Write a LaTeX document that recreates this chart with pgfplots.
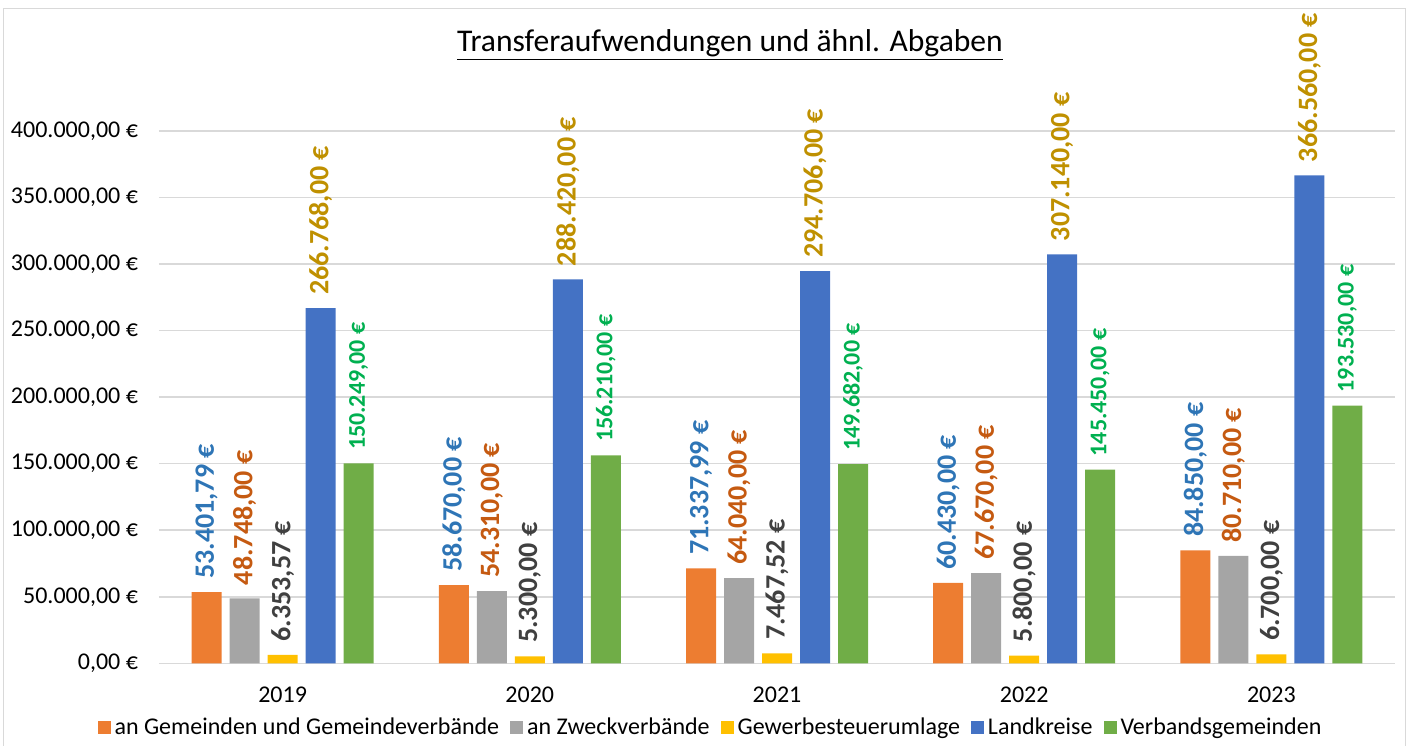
\documentclass[border=0pt]{standalone}
\usepackage{fontspec}
\setmainfont{Carlito}
\usepackage{pgfplots}
\pgfplotsset{compat=1.18}

\definecolor{cOrange}{HTML}{ED7D31}
\definecolor{cGray}{HTML}{A5A5A5}
\definecolor{cYellow}{HTML}{FFC000}
\definecolor{cBlue}{HTML}{4472C4}
\definecolor{cGreen}{HTML}{70AD47}
\definecolor{lBlue}{HTML}{2E75B6}
\definecolor{lOrange}{HTML}{C55A11}
\definecolor{lDark}{HTML}{404040}
\definecolor{lGold}{HTML}{BF9000}
\definecolor{lGreen}{HTML}{00B050}
\definecolor{gridGray}{HTML}{D9D9D9}

\begin{document}
\begin{tikzpicture}
\begin{axis}[
    scale only axis,
    width=618pt, height=266.2pt,
    xmin=-0.5, xmax=4.5,
    ymin=0, ymax=400000,
    ybar=4pt, bar width=15pt,
    clip=false,
    scaled y ticks=false,
    axis line style={draw=none},
    major tick length=0pt,
    ymajorgrids,
    grid style={color=gridGray, line width=0.75pt},
    xtick={0,1,2,3,4},
    xticklabels={2019,2020,2021,2022,2023},
    ytick={0,50000,100000,150000,200000,250000,300000,350000,400000},
    yticklabels={{0,00 €},{50.000,00 €},{100.000,00 €},{150.000,00 €},{200.000,00 €},{250.000,00 €},{300.000,00 €},{350.000,00 €},{400.000,00 €}},
    xticklabel style={font=\fontsize{12}{14}\selectfont, yshift=-8.5pt},
    yticklabel style={font=\fontsize{12}{14}\selectfont, xshift=-7pt},
    point meta=explicit symbolic,
    every node near coord/.append style={rotate=90, anchor=west, inner xsep=6.5pt},
    legend style={at={(rel axis cs:0.447,-0.12)}, anchor=center, draw=none,
        font=\fontsize{12}{14}\selectfont, legend columns=-1,
        inner sep=0pt,
        /tikz/every odd column/.append style={column sep=0pt},
        /tikz/every even column/.append style={column sep=3.5pt}},
    legend image code/.code={\fill[#1] (0pt,-3.3pt) rectangle (6.5pt,3.3pt);},
]
\addplot[fill=cOrange, draw=none, nodes near coords,
    nodes near coords style={font=\fontsize{14}{16}\selectfont\bfseries, text=lBlue}]
    coordinates {(0,53401.79) [53.401,79 €] (1,58670) [58.670,00 €] (2,71337.99) [71.337,99 €] (3,60430) [60.430,00 €] (4,84850) [84.850,00 €]};
\addplot[fill=cGray, draw=none, nodes near coords,
    nodes near coords style={font=\fontsize{14}{16}\selectfont\bfseries, text=lOrange}]
    coordinates {(0,48748) [48.748,00 €] (1,54310) [54.310,00 €] (2,64040) [64.040,00 €] (3,67670) [67.670,00 €] (4,80710) [80.710,00 €]};
\addplot[fill=cYellow, draw=none, nodes near coords,
    nodes near coords style={font=\fontsize{14}{16}\selectfont\bfseries, text=lDark}]
    coordinates {(0,6353.57) [6.353,57 €] (1,5300) [5.300,00 €] (2,7467.52) [7.467,52 €] (3,5800) [5.800,00 €] (4,6700) [6.700,00 €]};
\addplot[fill=cBlue, draw=none, nodes near coords,
    nodes near coords style={font=\fontsize{14}{16}\selectfont\bfseries, text=lGold}]
    coordinates {(0,266768) [266.768,00 €] (1,288420) [288.420,00 €] (2,294706) [294.706,00 €] (3,307140) [307.140,00 €] (4,366560) [366.560,00 €]};
\addplot[fill=cGreen, draw=none, nodes near coords,
    nodes near coords style={font=\fontsize{12}{14}\selectfont\bfseries, text=lGreen}]
    coordinates {(0,150249) [150.249,00 €] (1,156210) [156.210,00 €] (2,149682) [149.682,00 €] (3,145450) [145.450,00 €] (4,193530) [193.530,00 €]};
\legend{an Gemeinden und Gemeindeverbände, an Zweckverbände, Gewerbesteuerumlage, Landkreise, Verbandsgemeinden}
\end{axis}
\node[anchor=base, font=\fontsize{15.8}{18}\selectfont] at (285.5pt,306pt) {\underline{Transferaufwendungen und ähnl. Abgaben}};
\draw[gridGray, line width=0.5pt] (-77.5pt,-45pt) -- (-77.5pt,327.2pt) -- (623pt,327.2pt) -- (623pt,-45pt);
\pgfresetboundingbox
\useasboundingbox (-79.5pt,-40.85pt) rectangle (624.5pt,331.65pt);
\end{tikzpicture}
\end{document}
